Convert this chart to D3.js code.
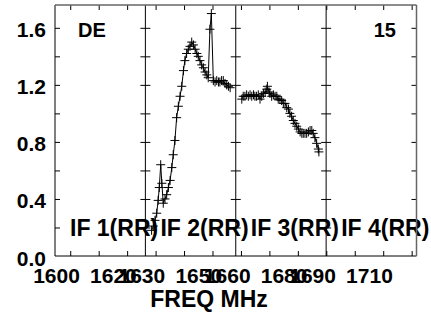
<!DOCTYPE html>
<html>
<head>
<meta charset="utf-8">
<script src="https://cdn.jsdelivr.net/npm/d3@7"></script>
<style>
 body { margin:0; background:#fff; }
 svg text { font-family:"Liberation Sans", Arial, sans-serif; font-weight:bold; fill:#000; }
</style>
</head>
<body>
<div id="chart"></div>
<script>
"use strict";

// panel names and axis labels
let ifNames = ["IF 1(RR)", "IF 2(RR)", "IF 3(RR)", "IF 4(RR)"];
let freqLabels = [1600, 1620, 1630, 1650, 1660, 1680, 1690, 1710];
let freqTicks = [1605, 1615, 1625, 1635, 1645, 1655, 1665, 1675, 1685, 1695, 1705, 1715, 1725];
let yLabels = [0, 0.4, 0.8, 1.2, 1.6];
let yTicks = [0.2, 0.4, 0.6, 0.8, 1.0, 1.2, 1.4, 1.6];

// IF 2 spectrum
let freq2 = [1633.6, 1634.2, 1634.8, 1635.4, 1635.9, 1636.3, 1636.8, 1637.2, 1637.7, 1638.3,
 1638.9, 1639.5, 1640.1, 1640.7, 1641.2, 1641.8, 1642.4, 1643.0, 1643.6, 1644.2,
 1644.8, 1645.3, 1645.9, 1646.5, 1647.1, 1647.7, 1648.3, 1648.9, 1649.5, 1650.0,
 1650.6, 1651.2, 1651.8, 1652.4, 1653.0, 1653.5, 1654.1, 1654.6, 1655.3, 1655.9,
 1656.5, 1657.1, 1657.6, 1658.2, 1658.8, 1659.4, 1660.0, 1660.6, 1661.2];
let amp2 = [0.18, 0.21, 0.25, 0.30, 0.39, 0.48, 0.64, 0.51, 0.37, 0.40,
 0.43, 0.48, 0.53, 0.62, 0.71, 0.81, 0.97, 1.05, 1.12, 1.19,
 1.30, 1.37, 1.42, 1.45, 1.47, 1.50, 1.48, 1.45, 1.42, 1.40,
 1.37, 1.34, 1.32, 1.29, 1.27, 1.25, 1.59, 1.70, 1.23, 1.22,
 1.23, 1.22, 1.22, 1.23, 1.23, 1.21, 1.20, 1.19, 1.18];

// IF 3 spectrum
let freq3 = [1665.3, 1665.8, 1666.4, 1667.0, 1667.6, 1668.2, 1668.8, 1669.4, 1669.9, 1670.5,
 1671.1, 1671.7, 1672.3, 1672.9, 1673.5, 1674.1, 1674.3, 1674.9, 1675.2, 1675.8,
 1676.4, 1677.0, 1677.6, 1678.1, 1678.7, 1679.3, 1679.9, 1680.5, 1681.1, 1681.7,
 1682.2, 1682.8, 1683.4, 1684.0, 1684.6, 1685.2, 1685.8, 1686.4, 1686.9, 1687.5,
 1688.1, 1688.7, 1689.3, 1689.9, 1690.4, 1691.0, 1691.6, 1692.2, 1692.4];
let amp3 = [1.10, 1.12, 1.12, 1.13, 1.12, 1.13, 1.12, 1.13, 1.12, 1.12,
 1.13, 1.10, 1.12, 1.14, 1.15, 1.17, 1.19, 1.15, 1.14, 1.12,
 1.13, 1.12, 1.12, 1.10, 1.10, 1.09, 1.07, 1.07, 1.04, 1.03,
 1.00, 0.98, 0.95, 0.93, 0.91, 0.89, 0.87, 0.86, 0.86, 0.86,
 0.86, 0.87, 0.88, 0.88, 0.86, 0.83, 0.79, 0.75, 0.73];

let series = [{f:freq2, a:amp2}, {f:freq3, a:amp3}];

// create svg
let svg = d3.select("#chart")
.append("svg")
.attr("width",431)
.attr("height",314);

let plotLeft = 55, plotRight = 416.5, plotTop = 5, plotBottom = 256;
let panelW = (plotRight-plotLeft)/4;

// scales
let xScale = d3.scaleLinear()
.domain([1599.65, 1726.7])
.range([plotLeft,plotRight]);

let yScale = d3.scaleLinear()
.domain([0,1.76])
.range([plotBottom,plotTop]);

// x ticks, bottom and top
svg.append("g")
.attr("transform","translate(0,"+plotBottom+")")
.call(d3.axisBottom(xScale).tickValues(freqTicks).tickSize(-5).tickFormat(""));
svg.append("g")
.attr("transform","translate(0,"+plotTop+")")
.call(d3.axisTop(xScale).tickValues(freqTicks).tickSize(-5).tickFormat(""));

// x labels
svg.append("g")
.attr("transform","translate(0,"+plotBottom+")")
.call(d3.axisBottom(xScale).tickValues(freqLabels).tickSize(0).tickPadding(0).tickFormat(d3.format("d")))
.selectAll("text")
.attr("dy",null)
.attr("y",27)
.style("font-size","21px");

// panels: frames, y ticks, IF names
for(let i=0;i<4;i=i+1){
 let x0 = plotLeft+i*panelW;

 svg.append("g")
 .attr("transform","translate("+x0+",0)")
 .call(d3.axisLeft(yScale).tickValues(yTicks).tickSize(-5).tickFormat(""));
 svg.append("g")
 .attr("transform","translate("+(x0+panelW)+",0)")
 .call(d3.axisRight(yScale).tickValues(yTicks).tickSize(-5).tickFormat(""));

 svg.append("line")
 .attr("x1",x0).attr("x2",x0)
 .attr("y1",plotTop).attr("y2",plotBottom)
 .attr("stroke","#000");

 svg.append("text")
 .attr("x",x0+15)
 .attr("y",236)
 .style("font-size","23px")
 .text(ifNames[i]);
}

svg.selectAll(".domain").remove();
svg.selectAll(".tick line").attr("stroke","#000");

// spectra with plus markers
let line = d3.line()
.x(function(d){ return xScale(d[0]); })
.y(function(d){ return yScale(d[1]); });

for(let s=0;s<series.length;s=s+1){
 let pts = series[s].f.map(function(f,j){ return [f, series[s].a[j]]; });
 svg.append("path")
 .datum(pts)
 .attr("d",line)
 .attr("fill","none")
 .attr("stroke","#000")
 .attr("stroke-width",1);
 svg.append("g")
 .selectAll("path")
 .data(pts)
 .join("path")
 .attr("d",function(d){
  let cx = xScale(d[0]), cy = yScale(d[1]);
  return "M"+(cx-4.5)+","+cy+"H"+(cx+4.5)+"M"+cx+","+(cy-4.5)+"V"+(cy+4.5);
 })
 .attr("stroke","#000")
 .attr("stroke-width",1)
 .attr("fill","none");
}

// outer frame lines
svg.append("line")
.attr("x1",plotLeft).attr("x2",plotRight)
.attr("y1",plotBottom).attr("y2",plotBottom)
.attr("stroke","#000");
svg.append("line")
.attr("x1",plotLeft).attr("x2",plotRight)
.attr("y1",plotTop).attr("y2",plotTop)
.attr("stroke","#666")
.attr("stroke-width",1.5);
svg.append("line")
.attr("x1",plotRight).attr("x2",plotRight)
.attr("y1",plotTop).attr("y2",plotBottom)
.attr("stroke","#666")
.attr("stroke-width",1.5);

// y labels
svg.append("g")
.attr("transform","translate("+plotLeft+",0)")
.call(d3.axisLeft(yScale).tickValues(yLabels).tickSize(0).tickPadding(9).tickFormat(d3.format(".1f")))
.call(function(g){ g.select(".domain").remove(); })
.selectAll("text")
.attr("dy","0.43em")
.style("font-size","21px");

// corner labels
svg.append("text")
.attr("x",78)
.attr("y",37)
.style("font-size","20px")
.text("DE");

svg.append("text")
.attr("x",396)
.attr("y",37)
.attr("text-anchor","end")
.style("font-size","20px")
.text("15");

// axis title
svg.append("text")
.attr("x",209)
.attr("y",307)
.attr("text-anchor","middle")
.style("font-size","23px")
.text("FREQ MHz");
</script>
</body>
</html>
